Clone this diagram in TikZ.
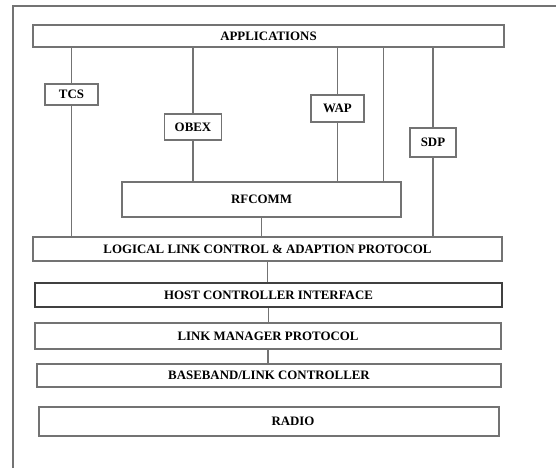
\documentclass[tikz,border=0pt]{standalone}
\usepackage{fontspec}
\setmainfont{Liberation Serif}
\usetikzlibrary{positioning, calc}
\def\pxUnit{0.03cm}
\def\frameGray{black!55}
\newcommand{\StackSharedStyles}{
  \tikzset{
    basebox/.style={
      rectangle,
      draw=\frameGray,
      line width=0.9pt,
      inner sep=0pt,
      align=center,
      font=\fontsize{11}{13}\selectfont\bfseries
    },
    dims/.style 2 args={minimum width=##1*\pxUnit, minimum height=##2*\pxUnit},
    layer/.style={basebox},
    proto/.style={basebox},
    hostbox/.style={basebox, draw=black!75},
    link/.style={draw=\frameGray, line width=0.9pt}
  }
}

\begin{document}
\begin{tikzpicture}[
  x=\pxUnit,
  y=-\pxUnit,
  line width=0.9pt
]
  \StackSharedStyles
  \useasboundingbox (0,0) rectangle (556,468);
  \draw[draw=\frameGray] (13,468) -- (13,6) -- (556,6);

  \node[layer, dims={471}{22}] (apps) at (268.5,36) {APPLICATIONS};
  \node[proto, dims={53}{21}] (tcs) at (71.5,94.5) {TCS};
  \node[proto, dims={57}{26}] (obex) at (193,127) {OBEX};
  \node[proto, dims={53}{27}] (wap) at (337.5,108.5) {WAP};
  \node[proto, dims={46}{29}] (sdp) at (433,142.5) {SDP};
  \node[layer, dims={279}{35}] (rfcomm) at (261.5,199.5) {RFCOMM};
  \node[layer, dims={469}{24}] (l2cap) at (267.5,249) {LOGICAL LINK CONTROL \& ADAPTION PROTOCOL};
  \node[hostbox, dims={467}{24}] (hci) at (268.5,295) {HOST CONTROLLER INTERFACE};
  \node[layer, dims={466}{26}] (lmp) at (268,336) {LINK MANAGER PROTOCOL};
  \node[layer, dims={464}{23}] (bb) at (269,375.5) {BASEBAND/LINK CONTROLLER};
  \node[layer, dims={460}{29}] (radio) at (269,421.5) {\hspace*{1.44cm}RADIO};

  \coordinate (tap) at ($(rfcomm.north east)+(-18,0)$);

  \draw[link] (tcs.north) -- (tcs.north |- apps.south);
  \draw[link] (tcs.south) -- (tcs.south |- l2cap.north);
  \draw[link] (obex.north) -- (obex.north |- apps.south);
  \draw[link] (obex.south) -- (obex.south |- rfcomm.north);
  \draw[link] (wap.north) -- (wap.north |- apps.south);
  \draw[link] (wap.south) -- (wap.south |- rfcomm.north);
  \draw[link] (tap) -- (tap |- apps.south);
  \draw[link] (sdp.north) -- (sdp.north |- apps.south);
  \draw[link] (sdp.south) -- (sdp.south |- l2cap.north);
  \draw[link] (rfcomm.south) -- (rfcomm.south |- l2cap.north);
  \draw[link] (l2cap.south) -- (l2cap.south |- hci.north);
  \draw[link] (hci.south) -- (hci.south |- lmp.north);
  \draw[link] (lmp.south) -- (lmp.south |- bb.north);
\end{tikzpicture}
\end{document}
